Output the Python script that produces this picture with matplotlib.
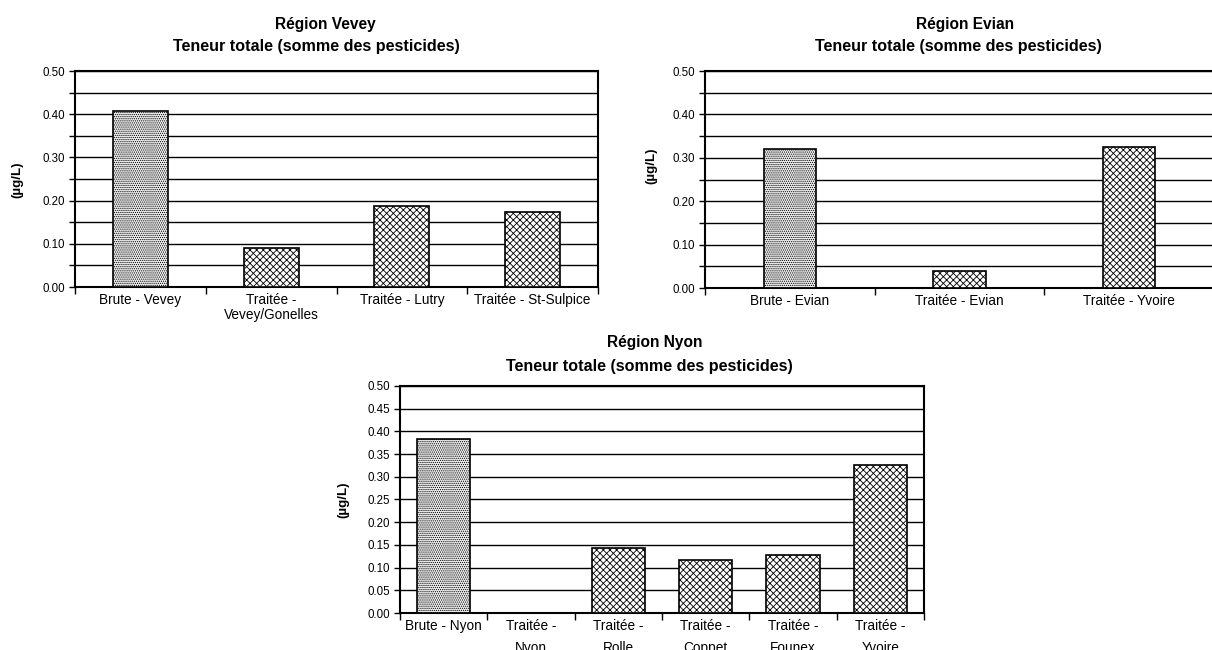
import matplotlib
matplotlib.use('Agg')
import matplotlib.pyplot as plt
from matplotlib.ticker import MultipleLocator, FixedLocator, NullFormatter, FixedFormatter

plt.rcParams['font.family'] = ['Liberation Sans', 'DejaVu Sans']
plt.rcParams['hatch.linewidth'] = 0.6

# data
vevey_labels = ['Brute - Vevey', 'Traitée -\nVevey/Gonelles', 'Traitée - Lutry', 'Traitée - St-Sulpice']
vevey_values = [0.408, 0.091, 0.188, 0.174]

evian_labels = ['Brute - Evian', 'Traitée - Evian', 'Traitée - Yvoire']
evian_values = [0.321, 0.040, 0.324]

nyon_labels = ['Brute - Nyon', 'Traitée -\nNyon', 'Traitée -\nRolle', 'Traitée -\nCoppet',
               'Traitée -\nFounex', 'Traitée -\nYvoire']
nyon_values = [0.383, 0.0, 0.143, 0.116, 0.127, 0.326]

W, H = 1212, 650
fig = plt.figure(figsize=(W / 100, H / 100), dpi=100)

tick_size = 8.3
cat_size = 9.8
title_size = 11.2
subtitle_size = 11.6


def px_axes(left, top, right, bottom):
    return fig.add_axes([left / W, 1 - bottom / H, (right - left) / W, (bottom - top) / H])


def draw(ax, labels, values, bar_w, minor_step, major_step, spacing):
    n = len(labels)
    x = list(range(n))
    for i, v in enumerate(values):
        if labels[i].startswith('Brute'):
            ax.bar(x[i], v, width=bar_w, facecolor='#f0f0f0', edgecolor='black',
                   hatch='........', linewidth=1.2, zorder=3)
        else:
            ax.bar(x[i], v, width=bar_w, facecolor='white', edgecolor='black',
                   hatch='xxxxx', linewidth=1.2, zorder=3)
    ax.set_xlim(-0.5, n - 0.5)
    ax.set_ylim(0, 0.5)
    ax.yaxis.set_major_locator(MultipleLocator(major_step))
    ax.yaxis.set_major_formatter(plt.FuncFormatter(lambda v, loc: '%.2f' % v))
    if minor_step:
        ax.yaxis.set_minor_locator(MultipleLocator(minor_step))
        ax.yaxis.grid(True, which='minor', color='black', linewidth=1.0, zorder=1)
    ax.yaxis.grid(True, which='major', color='black', linewidth=1.0, zorder=1)
    ax.set_axisbelow(True)
    # category boundaries carry the tick marks, centres carry the labels
    ax.xaxis.set_major_locator(FixedLocator([i - 0.5 for i in range(n + 1)]))
    ax.xaxis.set_major_formatter(NullFormatter())
    ax.xaxis.set_minor_locator(FixedLocator(x))
    ax.xaxis.set_minor_formatter(FixedFormatter(labels))
    ax.tick_params(axis='x', which='major', length=5, width=1, direction='out', colors='black')
    ax.tick_params(axis='x', which='minor', length=0, pad=4, labelsize=cat_size)
    ax.tick_params(axis='y', which='both', length=4, width=1, direction='out',
                   labelsize=tick_size, pad=3)
    for lab in ax.get_xticklabels(minor=True):
        lab.set_linespacing(spacing)
    for s in ax.spines.values():
        s.set_linewidth(1.5)
        s.set_color('black')


ax_1 = px_axes(75, 71, 598, 287)
draw(ax_1, vevey_labels, vevey_values, 0.42, 0.05, 0.10, 1.15)

ax_2 = px_axes(705, 71, 1214, 288)
draw(ax_2, evian_labels, evian_values, 0.31, 0.05, 0.10, 1.15)

ax_3 = px_axes(400, 386, 924, 613)
draw(ax_3, nyon_labels, nyon_values, 0.61, None, 0.05, 1.75)

# titles and unit labels, placed like the spreadsheet chart areas
def ftext(xp, yp, s, **kw):
    fig.text(xp / W, 1 - yp / H, s, ha='center', va='center', fontweight='bold', **kw)

ftext(325, 24, 'Région Vevey', fontsize=title_size)
ftext(316, 47, 'Teneur totale (somme des pesticides)', fontsize=subtitle_size)
ftext(965, 24, 'Région Evian', fontsize=title_size)
ftext(958, 47, 'Teneur totale (somme des pesticides)', fontsize=subtitle_size)
ftext(655, 343, 'Région Nyon', fontsize=title_size)
ftext(649, 367, 'Teneur totale (somme des pesticides)', fontsize=subtitle_size)

ftext(17, 180, '(µg/L)', fontsize=9.6, rotation=90)
ftext(651, 166, '(µg/L)', fontsize=9.6, rotation=90)
ftext(343, 500, '(µg/L)', fontsize=9.6, rotation=90)

fig.savefig('out.png', dpi=100)
